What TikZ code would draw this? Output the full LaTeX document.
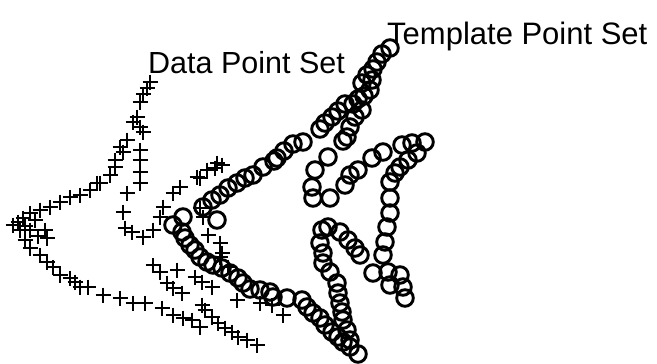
\documentclass[tikz,border=0pt]{standalone}
\usepackage{fontspec}
\setmainfont{Liberation Sans}
\tikzset{
  tmpl/.style={line width=2.9pt, draw=black},
  datapt/.style={line width=2.7pt, draw=black},
  lbl/.style={anchor=base west, inner sep=0pt, text=black}
}
\begin{document}
\begin{tikzpicture}[x=1pt,y=-1pt]
\useasboundingbox (0,0) rectangle (657,364);
% labels
\node[lbl, font=\fontsize{30.5}{36}\selectfont] (datalabel) at (148,73) {Data Point Set};
\node[lbl, font=\fontsize{31}{36}\selectfont] (templatelabel) at (387,45) {Template Point Set};
% template point set (circles)
\foreach \x/\y in {
 390/48,382/54,377/62,373/69,367/75,362/83,372/80,370/90,364/96,358/99,362/110,353/104,345/104,
 338/111,355/117,332/117,325/123,350/127,320/129,347/137,343/141,
 303/142,293/144,284/151,277/158,274/161,263/167,253/175,245/178,237/183,228/188,220/195,
 212/200,203/207,217/220,183/217,173/225,182/232,185/238,190/245,195/250,200/257,207/262,
 213/265,222/268,230/273,238/278,243/283,250/289,260/290,270/292,273/297,287/298,302/300,
 307/307,313/313,320/318,325/325,332/332,338/337,343/342,350/347,358/354,
 328/157,315/170,312/187,313/198,330/198,345/185,350/175,358/170,372/158,383/152,
 402/145,412/143,425/142,417/153,408/160,400/167,395/173,390/182,390/198,390/213,
 387/227,385/242,383/255,373/273,388/272,400/275,390/285,403/287,405/298,
 322/230,328/227,340/232,348/240,355/248,360/255,320/243,323/253,323/263,330/272,
 337/283,338/293,340/303,342/312,343/320,347/330,350/340}
  \draw[tmpl] (\x,\y) circle[radius=8.3pt];
% data point set (crosses)
\foreach \x/\y in {
 150/82,147/88,143/94,140/102,137/117,133/122,140/127,143/132,127/140,120/147,123/152,
 115/160,115/167,110/175,100/183,97/183,90/190,80/195,70/197,60/202,50/207,40/210,30/213,
 23/218,13/225,20/230,30/230,45/230,47/238,25/240,30/248,40/255,47/262,53/267,60/275,
 70/278,75/282,80/287,88/287,103/295,120/298,133/303,145/303,162/308,173/315,183/318,
 192/320,202/305,205/310,200/327,212/317,218/323,225/328,232/332,238/337,247/340,257/345,
 18/222,35/220,25/226,38/236,
 140/150,140/160,140/172,140/183,127/193,123/212,125/228,132/232,143/237,153/230,160/217,
 163/207,173/193,180/187,197/177,207/170,217/163,222/165,215/168,200/178,200/208,
 203/217,208/235,220/243,222/253,220/257,228/267,
 153/265,160/272,177/270,167/283,173/288,182/293,195/277,202/282,212/287,
 237/300,260/303,272/305,283/315}
  \draw[datapt] (\x-7.5,\y) -- (\x+7.5,\y) (\x,\y-7.5) -- (\x,\y+7.5);
\end{tikzpicture}
\end{document}
